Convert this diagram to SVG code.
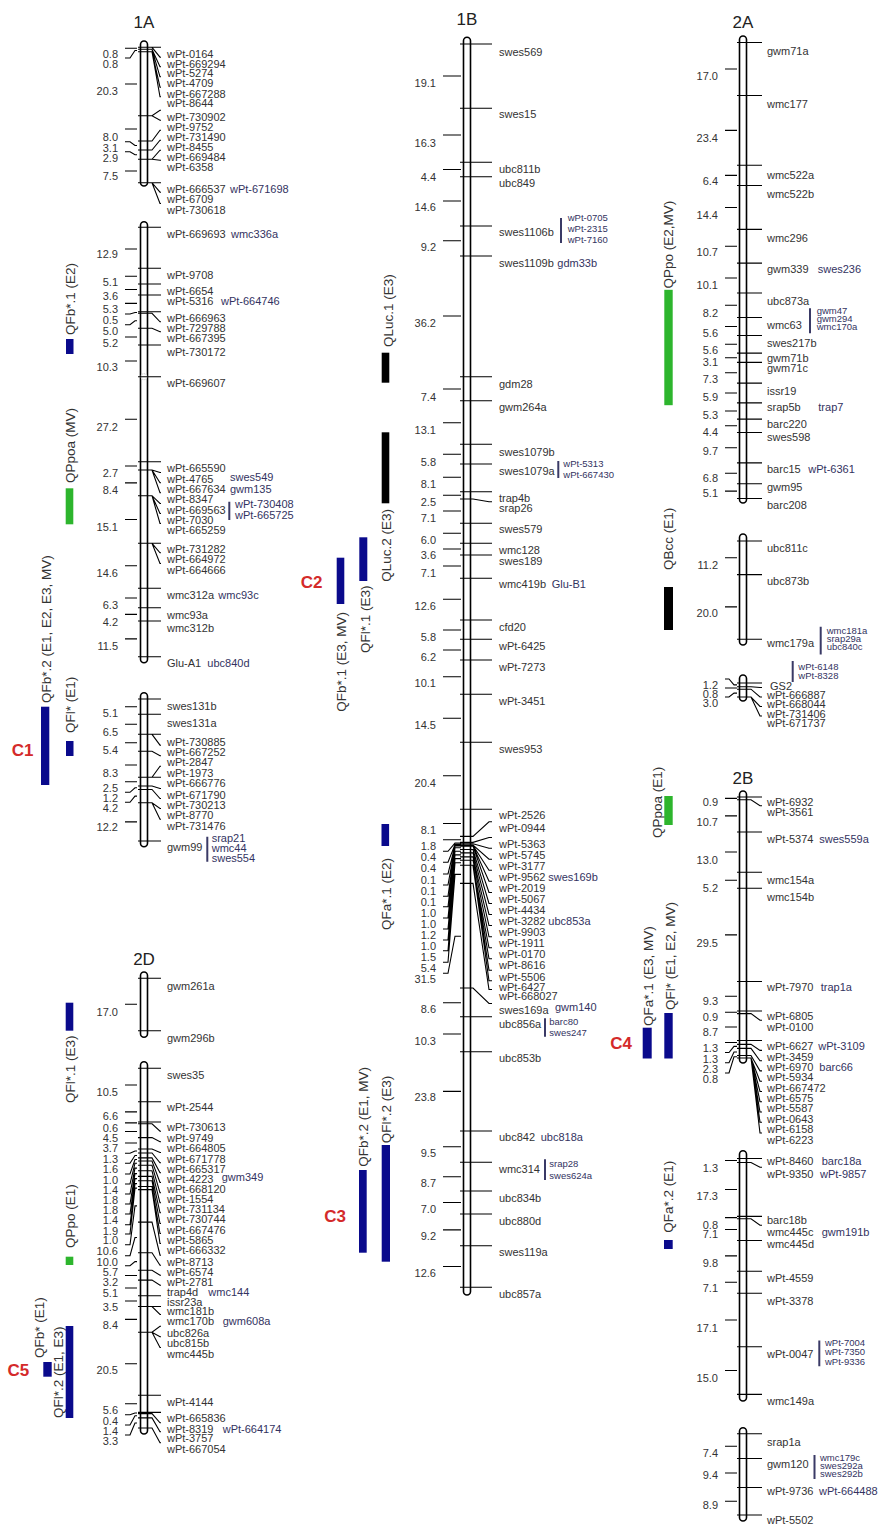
<svg xmlns="http://www.w3.org/2000/svg" width="880" height="1526" viewBox="0 0 880 1526">
<style>
.bar{fill:#fff;stroke:#000;stroke-width:1.6}
.ld{fill:none;stroke:#000;stroke-width:1.1}
.br{stroke:#3a3a66;stroke-width:2}
.lb{font-family:"Liberation Sans",Arial,sans-serif;font-size:11px;fill:#333}
.s{fill:#33335f}
.sm{font-size:9.5px}
.nm{font-family:"Liberation Sans",Arial,sans-serif;font-size:11px;fill:#333;text-anchor:end}
.q{font-family:"Liberation Sans",Arial,sans-serif;font-size:13.5px;fill:#333}
.ti{font-family:"Liberation Sans",Arial,sans-serif;font-size:17px;fill:#222;text-anchor:middle}
.c{font-family:"Liberation Sans",Arial,sans-serif;font-size:17px;font-weight:bold;fill:#d42a2a;text-anchor:middle}
.bl{fill:#0a0a8c}.gr{fill:#2db52d}.bk{fill:#000}
</style>
<rect width="880" height="1526" fill="#fff"/>

<!-- ===== 1A ===== -->
<g id="lg-1A" transform="translate(144,0)">
<text class="ti" x="0" y="27.5">1A</text>
<rect class="bar" x="-3.5" y="41" width="7" height="145" rx="3.5"/>
<rect class="bar" x="-3.5" y="221.7" width="7" height="441" rx="3.5"/>
<rect class="bar" x="-3.5" y="692.7" width="7" height="154" rx="3.5"/>
<circle cx="0" cy="376.7" r="3" fill="#fff" stroke="#bbb" stroke-width="1" stroke-dasharray="1 1"/>
<path class="ld" d="M-6 47.3H17M-6 47.3H8L16 57.2H17M-6 49.3H8L16 66.8H17M-6 49.3H8L16 76.8H17M-6 51.7H8L16 87.2H17M-6 51.7H8L16 96.8H17M-6 115.7H8L16 110.2H17M-6 115.7H8L16 120.2H17M-6 141H8L16 130.2H17M-6 150H8L16 140.2H17M-6 159.3H8L16 150.2H17M-6 159.3H8L16 160.2H17M-6 182.7H17M-6 182.7H8L16 192.2H17M-6 182.7H8L16 203.5H17
M-19 48.3H-7M-19 58H-14L-9 50.5H-7M-19 84H-7M-19 129H-7M-19 141.7H-14L-9 145.5H-7M-19 151.7H-14L-9 154.7H-7M-19 171H-7
M-6 227.3H17M-6 268.3H17M-6 284H17M-6 295H17M-6 311.7H17M-6 313.3H8L16 321.8H17M-6 328.3H8L16 331.8H17M-6 345H17M-6 376.7H17M-6 461.7H17M-6 470H8L16 472.5H17M-6 470H8L16 482.8H17M-6 470H8L16 492.8H17M-6 495.7H8L16 503.5H17M-6 495.7H8L16 513.5H17M-6 495.7H8L16 523.5H17M-6 543.3H17M-6 543.3H8L16 552.8H17M-6 543.3H8L16 563.5H17M-6 588.3H17M-6 607.7H17M-6 621H17M-6 656.7H17
M-19 249H-7M-19 276.2H-7M-19 289.5H-7M-19 303.4H-7M-19 314H-14L-9 312.5H-7M-19 324.7H-14L-9 320.8H-7M-19 337H-7M-19 361H-7M-19 419.2H-7M-19 466H-7M-19 482.9H-7M-19 519.5H-7M-19 565.8H-7M-19 598H-7M-19 614.4H-7M-19 638.9H-7
M-6 699H17M-6 714.3H17M-6 734.3H17M-6 734.3H8L16 745.2H17M-6 751.3H8L16 755.8H17M-6 777.3H8L16 766.2H17M-6 777.3H17M-6 786H8L16 788.5H17M-6 789.5H8L16 798.5H17M-6 802.7H8L16 808.5H17M-6 802.7H8L16 819.2H17M-6 841H17
M-19 706.7H-7M-19 724.3H-7M-19 742.8H-7M-19 765H-7M-19 781.7H-7M-19 792.3H-14L-9 787.8H-7M-19 802.3H-14L-9 796.1H-7M-19 821.9H-7"/>
<path class="br" d="M85.3 501.7V520M63.3 836.7V861.7"/>
<g class="lb">
<text x="23" y="57.7">wPt-0164</text><text x="23" y="67.7">wPt-669294</text><text x="23" y="77.3">wPt-5274</text><text x="23" y="87.3">wPt-4709</text><text x="23" y="97.7">wPt-667288</text><text x="23" y="107.3">wPt-8644</text><text x="23" y="120.7">wPt-730902</text><text x="23" y="130.7">wPt-9752</text><text x="23" y="140.7">wPt-731490</text><text x="23" y="150.7">wPt-8455</text><text x="23" y="160.7">wPt-669484</text><text x="23" y="170.7">wPt-6358</text><text x="23" y="192.7">wPt-666537</text><text class="s" x="86" y="192.7">wPt-671698</text><text x="23" y="202.7">wPt-6709</text><text x="23" y="214">wPt-730618</text>
<text x="23" y="238">wPt-669693</text><text class="s" x="87" y="238">wmc336a</text><text x="23" y="279">wPt-9708</text><text x="23" y="294.7">wPt-6654</text><text x="23" y="304.7">wPt-5316</text><text class="s" x="77" y="304.7">wPt-664746</text><text x="23" y="322.3">wPt-666963</text><text x="23" y="332.3">wPt-729788</text><text x="23" y="342.3">wPt-667395</text><text x="23" y="355.7">wPt-730172</text><text x="23" y="387.3">wPt-669607</text>
<text x="23" y="472.3">wPt-665590</text><text x="23" y="483">wPt-4765</text><text class="s" x="86" y="481.3">swes549</text><text x="23" y="493.3">wPt-667634</text><text class="s" x="86" y="493.3">gwm135</text><text x="23" y="503.3">wPt-8347</text><text x="23" y="514">wPt-669563</text><text x="23" y="524">wPt-7030</text><text x="23" y="534">wPt-665259</text><text class="s" x="91" y="508">wPt-730408</text><text class="s" x="91" y="519">wPt-665725</text>
<text x="23" y="553.3">wPt-731282</text><text x="23" y="563.3">wPt-664972</text><text x="23" y="574">wPt-664666</text><text x="23" y="599">wmc312a</text><text class="s" x="74.3" y="599">wmc93c</text><text x="23" y="619">wmc93a</text><text x="23" y="632.3">wmc312b</text><text x="23" y="667.3">Glu-A1</text><text class="s" x="63.3" y="667.3">ubc840d</text>
<text x="23" y="710">swes131b</text><text x="23" y="726.7">swes131a</text><text x="23" y="745.7">wPt-730885</text><text x="23" y="755.7">wPt-667252</text><text x="23" y="766.3">wPt-2847</text><text x="23" y="776.7">wPt-1973</text><text x="23" y="787">wPt-666776</text><text x="23" y="799">wPt-671790</text><text x="23" y="809">wPt-730213</text><text x="23" y="819">wPt-8770</text><text x="23" y="829.7">wPt-731476</text><text x="23" y="850.7">gwm99</text><text class="s" x="67.7" y="842.3">srap21</text><text class="s" x="67.7" y="852.3">wmc44</text><text class="s" x="67.7" y="862.3">swes554</text>
</g>
<g class="nm">
<text x="-26" y="58">0.8</text><text x="-26" y="68">0.8</text><text x="-26" y="95">20.3</text><text x="-26" y="140.7">8.0</text><text x="-26" y="151.7">3.1</text><text x="-26" y="161.7">2.9</text><text x="-26" y="180">7.5</text>
<text x="-26" y="258.3">12.9</text><text x="-26" y="286.3">5.1</text><text x="-26" y="300">3.6</text><text x="-26" y="313">5.3</text><text x="-26" y="324">0.5</text><text x="-26" y="334.7">5.0</text><text x="-26" y="347.3">5.2</text><text x="-26" y="371.3">10.3</text><text x="-26" y="430.7">27.2</text><text x="-26" y="476.7">2.7</text><text x="-26" y="494">8.4</text><text x="-26" y="530.7">15.1</text><text x="-26" y="576.7">14.6</text><text x="-26" y="609">6.3</text><text x="-26" y="625.7">4.2</text><text x="-26" y="649.7">11.5</text>
<text x="-26" y="717.3">5.1</text><text x="-26" y="735.7">6.5</text><text x="-26" y="754">5.4</text><text x="-26" y="776.7">8.3</text><text x="-26" y="791.7">2.5</text><text x="-26" y="802.3">1.2</text><text x="-26" y="812.3">4.2</text><text x="-26" y="831.3">12.2</text>
</g>
</g>

<!-- ===== 2D ===== -->
<g id="lg-2D" transform="translate(144,0)">
<text class="ti" x="0" y="965">2D</text>
<rect class="bar" x="-3.5" y="972" width="7" height="65.3" rx="3.5"/>
<rect class="bar" x="-3.5" y="1061.7" width="7" height="372.3" rx="3.5"/>
<path class="ld" d="M-6 978.3H17M-6 1030.7H17M-19 1004.3H-7
M-6 1068.3H17M-6 1101.7H17M-6 1122H17M-6 1123.8H8L16 1131.2H17M-6 1137.6H8L16 1141.8H17M-6 1149H8L16 1152.5H17M-6 1153H8L16 1162.8H17M-6 1157.9H8L16 1172.8H17M-6 1161H8L16 1182.5H17M-6 1165.3H8L16 1192.8H17M-6 1170.8H8L16 1202.8H17M-6 1176.4H8L16 1212.8H17M-6 1180.7H8L16 1223.5H17M-6 1186.5H8L16 1233.5H17M-6 1189.6H8L16 1243.5H17M-6 1222.1H8L16 1255.2H17M-6 1252.8H8L16 1265.2H17M-6 1270.3H8L16 1275.2H17M-6 1280.1H8L16 1285.2H17M-6 1295.8H17M-6 1306.5H17M-6 1306.5H8L16 1314.5H17M-6 1332.3H8L16 1326.2H17M-6 1332.3H8L16 1336.8H17M-6 1332.3H8L16 1347.5H17M-6 1395.2H17M-6 1412.4H17M-6 1413.6H8L16 1422.8H17M-6 1417.9H8L16 1431.8H17M-6 1428H8L16 1442.8H17
M-19 1085H-7M-19 1111.9H-7M-19 1122.9H-7M-19 1131.5H-7M-19 1143H-7M-19 1153.3H-14L-9 1151H-7M-19 1163.3H-14L-9 1155.5H-7M-19 1174H-14L-9 1159.5H-7M-19 1184H-14L-9 1163.2H-7M-19 1194H-14L-9 1168.1H-7M-19 1204H-14L-9 1173.6H-7M-19 1214H-14L-9 1178.6H-7M-19 1224.7H-14L-9 1183.6H-7M-19 1234H-14L-9 1188.1H-7M-19 1244.7H-14L-9 1205.9H-7M-19 1255.7H-14L-9 1237.5H-7M-19 1265.7H-14L-9 1261.6H-7M-19 1275.5H-7M-19 1288H-7M-19 1301H-7M-19 1319.4H-7M-19 1363.8H-7M-19 1403.8H-7M-19 1414.7H-14L-9 1413H-7M-19 1425H-14L-9 1415.8H-7M-19 1435H-14L-9 1423H-7"/>
<g class="lb">
<text x="23" y="990">gwm261a</text><text x="23" y="1042.3">gwm296b</text>
<text x="23" y="1079">swes35</text><text x="23" y="1110.7">wPt-2544</text><text x="23" y="1130.7">wPt-730613</text><text x="23" y="1141.7">wPt-9749</text><text x="23" y="1152.3">wPt-664805</text><text x="23" y="1163">wPt-671778</text><text x="23" y="1173.3">wPt-665317</text><text x="23" y="1183.3">wPt-4223</text><text class="s" x="77.7" y="1180.7">gwm349</text><text x="23" y="1193">wPt-668120</text><text x="23" y="1203.3">wPt-1554</text><text x="23" y="1213.3">wPt-731134</text><text x="23" y="1223.3">wPt-730744</text><text x="23" y="1234">wPt-667476</text><text x="23" y="1244">wPt-5865</text><text x="23" y="1254">wPt-666332</text><text x="23" y="1265.7">wPt-8713</text><text x="23" y="1275.7">wPt-6574</text><text x="23" y="1285.7">wPt-2781</text><text x="23" y="1295.7">trap4d</text><text class="s" x="64.3" y="1295.7">wmc144</text><text x="23" y="1305.7">issr23a</text><text x="23" y="1315">wmc181b</text><text x="23" y="1325">wmc170b</text><text class="s" x="78.7" y="1325">gwm608a</text><text x="23" y="1336.7">ubc826a</text><text x="23" y="1347.3">ubc815b</text><text x="23" y="1358">wmc445b</text><text x="23" y="1405.7">wPt-4144</text><text x="23" y="1422.3">wPt-665836</text><text x="23" y="1433.3">wPt-8319</text><text class="s" x="78.7" y="1433.3">wPt-664174</text><text x="23" y="1442.3">wPt-3757</text><text x="23" y="1453.3">wPt-667054</text>
</g>
<g class="nm">
<text x="-26" y="1015.7">17.0</text>
<text x="-26" y="1095.7">10.5</text><text x="-26" y="1120">6.6</text><text x="-26" y="1131.7">0.6</text><text x="-26" y="1142.3">4.5</text><text x="-26" y="1152.3">3.7</text><text x="-26" y="1163.3">1.3</text><text x="-26" y="1173.3">1.6</text><text x="-26" y="1184">1.0</text><text x="-26" y="1194">1.4</text><text x="-26" y="1204">1.8</text><text x="-26" y="1214">1.8</text><text x="-26" y="1224">1.4</text><text x="-26" y="1234.7">1.9</text><text x="-26" y="1244">1.0</text><text x="-26" y="1254.7">10.6</text><text x="-26" y="1265.7">10.0</text><text x="-26" y="1275.7">5.7</text><text x="-26" y="1285.7">3.2</text><text x="-26" y="1297.3">5.1</text><text x="-26" y="1310.7">3.5</text><text x="-26" y="1329">8.4</text><text x="-26" y="1374">20.5</text><text x="-26" y="1414">5.6</text><text x="-26" y="1424.7">0.4</text><text x="-26" y="1435">1.4</text><text x="-26" y="1445">3.3</text>
</g>
</g>

<!-- ===== 1B ===== -->
<g id="lg-1B" transform="translate(467,0)">
<text class="ti" x="0" y="25">1B</text>
<rect class="bar" x="-3.5" y="37.3" width="7" height="1257.7" rx="3.5"/>
<path class="ld" d="M-7 44H25M-7 108.3H25M-7 162.3H25M-7 176.7H25M-7 226H25M-7 256H25M-7 376.7H25M-7 400.7H25M-7 444.3H25M-7 464H25M-7 491.7H25M-7 499H6L22 501.8H25M-7 523.3H25M-7 543.3H25M-7 555H25M-7 578.3H25M-7 620H25M-7 639.3H25M-7 660H25M-7 694.3H25M-7 742.3H25M-7 809.3H25M-7 836.4H6L22 821.8H25M-7 842.4H6L22 837.5H25M-7 843.8H6L22 848.2H25M-7 845.1H6L22 859.2H25M-7 845.5H6L22 870.2H25M-7 845.8H6L22 881.2H25M-7 846.1H6L22 892.5H25M-7 849.5H6L22 903.5H25M-7 852.9H6L22 914.5H25M-7 856.9H6L22 925.5H25M-7 860.2H6L22 936.8H25M-7 865.3H6L22 947.8H25M-7 865.3H6L22 958.8H25M-7 865.3H6L22 970.2H25M-7 865.3H6L22 980.8H25M-7 883.4H6L22 989.5H25M-7 988H6L22 1003.5H25M-7 1016.7H25M-7 1051.7H25M-7 1131H25M-7 1162.3H25M-7 1191H25M-7 1214H25M-7 1245.7H25M-7 1287.3H25
M-24 76H-6M-24 135H-6M-24 169.5H-6M-24 201H-6M-24 240.7H-6M-24 316H-6M-24 389H-6M-24 422.7H-6M-24 454.3H-6M-24 477.3H-6M-24 495.3H-6M-24 511H-6M-24 533.3H-6M-24 549H-6M-24 566H-6M-24 599.3H-6M-24 630H-6M-24 650H-6M-24 676.7H-6M-24 718.3H-6M-24 775.7H-6M-24 823.5H-6M-24 839.7H-6M-24 851.3H-19L-12 843.1H-6M-24 862.3H-19L-12 844.5H-6M-24 874H-19L-12 845.3H-6M-24 885H-19L-12 845.7H-6M-24 896.3H-19L-12 846H-6M-24 906.7H-19L-12 847.8H-6M-24 918H-19L-12 851.2H-6M-24 929H-19L-12 854.9H-6M-24 940H-19L-12 858.6H-6M-24 950.7H-19L-12 862.8H-6M-24 962.3H-19L-12 874.4H-6M-24 973.3H-19L-12 936.2H-6M-24 1002.8H-6M-24 1034H-6M-24 1091.4H-6M-24 1146.7H-6M-24 1176.7H-6M-24 1202.5H-6M-24 1229.9H-6M-24 1266.5H-6"/>
<path class="br" d="M94 218V243M91.3 461V478M78 1018.3V1036.7M78 1159.3V1180"/>
<g class="lb">
<text x="32" y="55.7">swes569</text><text x="32" y="118.3">swes15</text><text x="32" y="173">ubc811b</text><text x="32" y="187.3">ubc849</text><text x="32" y="236.3">swes1106b</text><text class="s sm" x="100.7" y="220.5">wPt-0705</text><text class="s sm" x="100.7" y="232">wPt-2315</text><text class="s sm" x="100.7" y="243.3">wPt-7160</text><text x="32" y="266.7">swes1109b</text><text class="s" x="90.3" y="266.7">gdm33b</text><text x="32" y="388">gdm28</text><text x="32" y="411.3">gwm264a</text><text x="32" y="455.7">swes1079b</text><text x="32" y="474.7">swes1079a</text><text class="s sm" x="96.3" y="467">wPt-5313</text><text class="s sm" x="96.3" y="478">wPt-667430</text><text x="32" y="501.7">trap4b</text><text x="32" y="512.3">srap26</text><text x="32" y="533.3">swes579</text><text x="32" y="554">wmc128</text><text x="32" y="564.7">swes189</text><text x="32" y="588.3">wmc419b</text><text class="s" x="84.7" y="588.3">Glu-B1</text><text x="32" y="631.3">cfd20</text><text x="32" y="650">wPt-6425</text><text x="32" y="670.7">wPt-7273</text><text x="32" y="705">wPt-3451</text><text x="32" y="753.3">swes953</text><text x="32" y="819">wPt-2526</text><text x="32" y="832.3">wPt-0944</text>
<text x="32" y="848">wPt-5363</text><text x="32" y="858.7">wPt-5745</text><text x="32" y="869.7">wPt-3177</text><text x="32" y="880.7">wPt-9562</text><text class="s" x="81.3" y="880.7">swes169b</text><text x="32" y="891.7">wPt-2019</text><text x="32" y="903">wPt-5067</text><text x="32" y="914">wPt-4434</text><text x="32" y="925">wPt-3282</text><text class="s" x="81.3" y="925">ubc853a</text><text x="32" y="936">wPt-9903</text><text x="32" y="947.3">wPt-1911</text><text x="32" y="958.3">wPt-0170</text><text x="32" y="969.3">wPt-8616</text><text x="32" y="980.7">wPt-5506</text><text x="32" y="991.3">wPt-6427</text><text x="32" y="1000">wPt-668027</text><text x="32" y="1014">swes169a</text><text class="s" x="88" y="1011.3">gwm140</text><text x="32" y="1028">ubc856a</text><text class="s sm" x="82.3" y="1025.2">barc80</text><text class="s sm" x="82.3" y="1035.5">swes247</text><text x="32" y="1062.3">ubc853b</text><text x="32" y="1141.3">ubc842</text><text class="s" x="73.7" y="1141.3">ubc818a</text><text x="32" y="1173.3">wmc314</text><text class="s sm" x="82.3" y="1166.8">srap28</text><text class="s sm" x="82.3" y="1178.5">swes624a</text><text x="32" y="1201.7">ubc834b</text><text x="32" y="1224.7">ubc880d</text><text x="32" y="1256.3">swes119a</text><text x="32" y="1298">ubc857a</text>
</g>
<g class="nm">
<text x="-31" y="87.3">19.1</text><text x="-31" y="146.7">16.3</text><text x="-31" y="180.7">4.4</text><text x="-31" y="211.3">14.6</text><text x="-31" y="251.3">9.2</text><text x="-31" y="327.3">36.2</text><text x="-31" y="400.7">7.4</text><text x="-31" y="434">13.1</text><text x="-31" y="465.7">5.8</text><text x="-31" y="488">8.1</text><text x="-31" y="505.7">2.5</text><text x="-31" y="522.3">7.1</text><text x="-31" y="544">6.0</text><text x="-31" y="559">3.6</text><text x="-31" y="577.3">7.1</text><text x="-31" y="610">12.6</text><text x="-31" y="640.7">5.8</text><text x="-31" y="660.7">6.2</text><text x="-31" y="687.3">10.1</text><text x="-31" y="729">14.5</text><text x="-31" y="787.3">20.4</text>
<text x="-31" y="834">8.1</text><text x="-31" y="850">1.8</text><text x="-31" y="861.3">0.4</text><text x="-31" y="872.3">0.4</text><text x="-31" y="884">0.1</text><text x="-31" y="895">0.1</text><text x="-31" y="906.3">0.1</text><text x="-31" y="916.7">1.0</text><text x="-31" y="928">1.0</text><text x="-31" y="939">1.2</text><text x="-31" y="950">1.0</text><text x="-31" y="960.7">1.5</text><text x="-31" y="972.3">5.4</text><text x="-31" y="983.3">31.5</text><text x="-31" y="1013.3">8.6</text><text x="-31" y="1044.7">10.3</text><text x="-31" y="1101.3">23.8</text><text x="-31" y="1156.7">9.5</text><text x="-31" y="1186.7">8.7</text><text x="-31" y="1213">7.0</text><text x="-31" y="1240">9.2</text><text x="-31" y="1276.7">12.6</text>
</g>
</g>

<!-- ===== 2A ===== -->
<g id="lg-2A" transform="translate(743,0)">
<text class="ti" x="0" y="27.5">2A</text>
<rect class="bar" x="-3.5" y="36" width="7" height="467" rx="3.5"/>
<rect class="bar" x="-3.5" y="534" width="7" height="111" rx="3.5"/>
<rect class="bar" x="-3.5" y="675" width="7" height="26" rx="3.5"/>
<path class="ld" d="M-6 42.5H19M-6 95.5H19M-6 165.2H19M-6 185.5H19M-6 229.4H19M-6 263.1H19M-6 293H19M-6 317.5H19M-6 335.5H19M-6 353.1H19M-6 362.4H19M-6 383.1H19M-6 402.9H19M-6 419.1H19M-6 432.5H19M-6 462.9H19M-6 483.7H19M-6 498.5H19
M-18 69H-6M-18 130.4H-6M-18 175.4H-6M-18 207.5H-6M-18 246.3H-6M-18 278H-6M-18 305.3H-6M-18 326.5H-6M-18 344.3H-6M-18 357.8H-6M-18 372.8H-6M-18 393H-6M-18 411H-6M-18 425.8H-6M-18 447.7H-6M-18 473.3H-6M-18 491.1H-6
M-6 541H19M-6 574.6H19M-6 639.2H19M-18 557.8H-6M-18 606.9H-6
M-6 683H19M-6 686.7H8L17 687.5H19M-6 689.2H8L17 697H19M-6 697H8L17 706.5H19M-6 697H8L17 716H19
M-18 679H-14L-9 684.9H-6M-18 688H-6M-18 697H-14L-9 693.1H-6"/>
<path class="br" d="M67 308.3V333.2M77.7 626.8V654.5M49.7 661V682"/>
<g class="lb">
<text x="24" y="54.8">gwm71a</text><text x="24" y="107.8">wmc177</text><text x="24" y="178.5">wmc522a</text><text x="24" y="197.8">wmc522b</text><text x="24" y="241.7">wmc296</text><text x="24" y="272.6">gwm339</text><text class="s" x="74.7" y="272.6">swes236</text><text x="24" y="305.4">ubc873a</text><text x="24" y="329.4">wmc63</text><text class="s sm" x="73.7" y="313.7">gwm47</text><text class="s sm" x="73.7" y="322">gwm294</text><text class="s sm" x="73.7" y="330.3">wmc170a</text><text x="24" y="346.5">swes217b</text><text x="24" y="361.7">gwm71b</text><text x="24" y="371.8">gwm71c</text><text x="24" y="395.4">issr19</text><text x="24" y="411.1">srap5b</text><text class="s" x="75.3" y="411.1">trap7</text><text x="24" y="427.7">barc220</text><text x="24" y="441.1">swes598</text><text x="24" y="472.5">barc15</text><text class="s" x="65.3" y="472.5">wPt-6361</text><text x="24" y="490.9">gwm95</text><text x="24" y="508.5">barc208</text>
<text x="24" y="552.3">ubc811c</text><text x="24" y="584.6">ubc873b</text><text x="24" y="647">wmc179a</text><text class="s sm" x="83.7" y="633.5">wmc181a</text><text class="s sm" x="83.7" y="641.8">srap29a</text><text class="s sm" x="83.7" y="650.1">ubc840c</text>
<text x="27" y="690">GS2</text><text class="s sm" x="55.3" y="669.5">wPt-6148</text><text class="s sm" x="55.3" y="679">wPt-8328</text><text x="24" y="698.5">wPt-666887</text><text x="24" y="708">wPt-668044</text><text x="24" y="717.5">wPt-731406</text><text x="24" y="727">wPt-671737</text>
</g>
<g class="nm">
<text x="-25" y="80.2">17.0</text><text x="-25" y="141.5">23.4</text><text x="-25" y="184.9">6.4</text><text x="-25" y="218.6">14.4</text><text x="-25" y="255.5">10.7</text><text x="-25" y="289.2">10.1</text><text x="-25" y="316.9">8.2</text><text x="-25" y="337.2">5.6</text><text x="-25" y="353.8">5.6</text><text x="-25" y="366.3">3.1</text><text x="-25" y="383.4">7.3</text><text x="-25" y="400.9">5.9</text><text x="-25" y="419.4">5.3</text><text x="-25" y="435.5">4.4</text><text x="-25" y="455.4">9.7</text><text x="-25" y="481.7">6.8</text><text x="-25" y="496.9">5.1</text>
<text x="-25" y="569.4">11.2</text><text x="-25" y="616.9">20.0</text>
<text x="-25" y="688.5">1.2</text><text x="-25" y="697.5">0.8</text><text x="-25" y="706.5">3.0</text>
</g>
</g>

<!-- ===== 2B ===== -->
<g id="lg-2B" transform="translate(743,0)">
<text class="ti" x="0" y="784">2B</text>
<rect class="bar" x="-3.5" y="791" width="7" height="272" rx="3.5"/>
<rect class="bar" x="-3.5" y="1150.8" width="7" height="250.2" rx="3.5"/>
<rect class="bar" x="-3.5" y="1427.7" width="7" height="93.3" rx="3.5"/>
<path class="ld" d="M-6 797H19M-6 799.8H8L17 805.8H19M-6 832H19M-6 872.3H19M-6 888.2H19M-6 981.5H19M-6 1011H19M-6 1013.6H8L17 1020.2H19M-6 1040.5H19M-6 1044.4H8L17 1050.4H19M-6 1048.4H8L17 1060.7H19M-6 1055.5H8L17 1070.9H19M-6 1058H8L17 1081.2H19M-6 1058H8L17 1091.5H19M-6 1058H8L17 1101.7H19M-6 1058H8L17 1112H19M-6 1058H8L17 1122.2H19M-6 1058H8L17 1133H19
M-18 798.4H-6M-18 815.9H-6M-18 852H-6M-18 880.3H-6M-18 934.9H-6M-18 996.3H-6M-18 1012.3H-6M-18 1027H-6M-18 1042.5H-6M-18 1052.5H-14L-9 1046.4H-6M-18 1062.7H-14L-9 1052H-6M-18 1073H-14L-9 1056.8H-6
M-6 1158.5H19M-6 1162.5H8L17 1167.3H19M-6 1216.4H19M-6 1218.8H8L17 1225.3H19M-6 1240.5H19M-6 1271.3H19M-6 1293.3H19M-6 1346.7H19M-6 1394.4H19
M-18 1160.5H-6M-18 1189.5H-6M-18 1217.6H-6M-18 1229.5H-6M-18 1255.9H-6M-18 1282.3H-6M-18 1320H-6M-18 1370.5H-6
M-6 1433.8H19M-6 1458.5H19M-6 1487.5H19M-6 1515H19M-18 1446.2H-6M-18 1473H-6M-18 1501.3H-6"/>
<path class="br" d="M76.3 1340.5V1366.2M71.5 1454.9V1479"/>
<g class="lb">
<text x="24" y="806">wPt-6932</text><text x="24" y="816.3">wPt-3561</text><text x="24" y="843">wPt-5374</text><text class="s" x="76.3" y="843">swes559a</text><text x="24" y="884">wmc154a</text><text x="24" y="900.9">wmc154b</text><text x="24" y="990.7">wPt-7970</text><text class="s" x="77.7" y="990.7">trap1a</text><text x="24" y="1020.4">wPt-6805</text><text x="24" y="1030.7">wPt-0100</text><text x="24" y="1049.6">wPt-6627</text><text class="s" x="75.3" y="1049.6">wPt-3109</text><text x="24" y="1060.9">wPt-3459</text><text x="24" y="1071.2">wPt-6970</text><text class="s" x="76.3" y="1071.2">barc66</text><text x="24" y="1081.4">wPt-5934</text><text x="24" y="1091.7">wPt-667472</text><text x="24" y="1102">wPt-6575</text><text x="24" y="1112.2">wPt-5587</text><text x="24" y="1122.5">wPt-0643</text><text x="24" y="1132.7">wPt-6158</text><text x="24" y="1143.5">wPt-6223</text>
<text x="24" y="1165">wPt-8460</text><text class="s" x="78.7" y="1165">barc18a</text><text x="24" y="1177.8">wPt-9350</text><text class="s" x="77" y="1177.8">wPt-9857</text><text x="24" y="1224">barc18b</text><text x="24" y="1235.8">wmc445c</text><text class="s" x="78.7" y="1235.8">gwm191b</text><text x="24" y="1248.1">wmc445d</text><text x="24" y="1282">wPt-4559</text><text x="24" y="1305">wPt-3378</text><text x="24" y="1358.4">wPt-0047</text><text class="s sm" x="82" y="1345.5">wPt-7004</text><text class="s sm" x="82" y="1355.3">wPt-7350</text><text class="s sm" x="82" y="1364.5">wPt-9336</text><text x="24" y="1405">wmc149a</text>
<text x="24" y="1445.5">srap1a</text><text x="24" y="1467.6">gwm120</text><text class="s sm" x="77" y="1460.5">wmc179c</text><text class="s sm" x="77" y="1468.8">swes292a</text><text class="s sm" x="77" y="1477.3">swes292b</text><text x="24" y="1494.8">wPt-9736</text><text class="s" x="76" y="1494.8">wPt-664488</text><text x="24" y="1524">wPt-5502</text>
</g>
<g class="nm">
<text x="-25" y="806">0.9</text><text x="-25" y="825.5">10.7</text><text x="-25" y="863.5">13.0</text><text x="-25" y="892.2">5.2</text><text x="-25" y="947">29.5</text><text x="-25" y="1005">9.3</text><text x="-25" y="1021.4">0.9</text><text x="-25" y="1035.8">8.7</text><text x="-25" y="1052.2">1.3</text><text x="-25" y="1062.5">1.3</text><text x="-25" y="1072.7">2.3</text><text x="-25" y="1083">0.8</text>
<text x="-25" y="1171.7">1.3</text><text x="-25" y="1199.9">17.3</text><text x="-25" y="1229.1">0.8</text><text x="-25" y="1238.4">7.1</text><text x="-25" y="1266.6">9.8</text><text x="-25" y="1292.2">7.1</text><text x="-25" y="1331.7">17.1</text><text x="-25" y="1382">15.0</text>
<text x="-25" y="1457.3">7.4</text><text x="-25" y="1479.4">9.4</text><text x="-25" y="1508.6">8.9</text>
</g>
</g>

<!-- ===== QTL intervals ===== -->
<g id="qtl-1A">
<text class="q" transform="translate(75,335) rotate(-90)">QFb*.1 (E2)</text>
<rect class="bl" x="66" y="339" width="7.5" height="15"/>
<text class="q" transform="translate(75,483) rotate(-90)">QPpoa (MV)</text>
<rect class="gr" x="65.7" y="488.3" width="7.6" height="36"/>
<text class="q" transform="translate(51,703) rotate(-90)">QFb*.2 (E1, E2, E3, MV)</text>
<rect class="bl" x="41" y="706.7" width="8.3" height="78.3"/>
<text class="q" transform="translate(75,733) rotate(-90)">QFl* (E1)</text>
<rect class="bl" x="66" y="741" width="7.5" height="15"/>
<text class="c" x="22.5" y="756">C1</text>
</g>
<g id="qtl-1B">
<text class="q" transform="translate(393,347) rotate(-90)">QLuc.1 (E3)</text>
<rect class="bk" x="381.7" y="352.7" width="7.6" height="30"/>
<text class="q" transform="translate(391,581.7) rotate(-90)">QLuc.2 (E3)</text>
<rect class="bk" x="381.7" y="432.3" width="7.6" height="71"/>
<text class="q" transform="translate(369.5,653) rotate(-90)">QFl*.1 (E3)</text>
<rect class="bl" x="359.3" y="537.3" width="8" height="43.7"/>
<text class="q" transform="translate(346,711.7) rotate(-90)">QFb*.1 (E3, MV)</text>
<rect class="bl" x="336.7" y="557.7" width="7.6" height="46.3"/>
<text class="c" x="311.7" y="588">C2</text>
<text class="q" transform="translate(391,930) rotate(-90)">QFa*.1 (E2)</text>
<rect class="bl" x="381.5" y="824" width="7.6" height="22"/>
<text class="q" transform="translate(367.5,1166.7) rotate(-90)">QFb*.2 (E1, MV)</text>
<rect class="bl" x="359" y="1170" width="7.7" height="82.7"/>
<text class="q" transform="translate(391,1143.3) rotate(-90)">QFl*.2 (E3)</text>
<rect class="bl" x="381.7" y="1145" width="8.3" height="116.7"/>
<text class="c" x="335" y="1222">C3</text>
</g>
<g id="qtl-2D">
<text class="q" transform="translate(74.5,1103) rotate(-90)">QFl*.1 (E3)</text>
<rect class="bl" x="65.7" y="1002.7" width="7.6" height="28"/>
<text class="q" transform="translate(74.5,1248) rotate(-90)">QPpo (E1)</text>
<rect class="gr" x="65.7" y="1256.7" width="7.6" height="8.3"/>
<text class="q" transform="translate(43.5,1358) rotate(-90)">QFb* (E1)</text>
<rect class="bl" x="43.3" y="1362" width="8.4" height="14.7"/>
<text class="q" transform="translate(62.5,1418) rotate(-90)">QFl*.2 (E1, E3)</text>
<rect class="bl" x="65.7" y="1326" width="7.6" height="92"/>
<text class="c" x="18.3" y="1375.5">C5</text>
</g>
<g id="qtl-2A">
<text class="q" transform="translate(673,288.5) rotate(-90)">QPpo (E2,MV)</text>
<rect class="gr" x="664.3" y="289.8" width="8.4" height="115.4"/>
<text class="q" transform="translate(673,570) rotate(-90)">QBcc (E1)</text>
<rect class="bk" x="664" y="587" width="9" height="43"/>
</g>
<g id="qtl-2B">
<text class="q" transform="translate(662,838) rotate(-90)">QPpoa (E1)</text>
<rect class="gr" x="664.3" y="796" width="8.4" height="29"/>
<text class="q" transform="translate(653,1026) rotate(-90)">QFa*.1 (E3, MV)</text>
<rect class="bl" x="642.7" y="1027.7" width="9" height="30.8"/>
<text class="q" transform="translate(675,1010) rotate(-90)">QFl* (E1, E2, MV)</text>
<rect class="bl" x="664.3" y="1013" width="8.4" height="45.5"/>
<text class="c" x="621" y="1049">C4</text>
<text class="q" transform="translate(673,1232.8) rotate(-90)">QFa*.2 (E1)</text>
<rect class="bl" x="664" y="1240" width="8.7" height="9"/>
</g>
</svg>
